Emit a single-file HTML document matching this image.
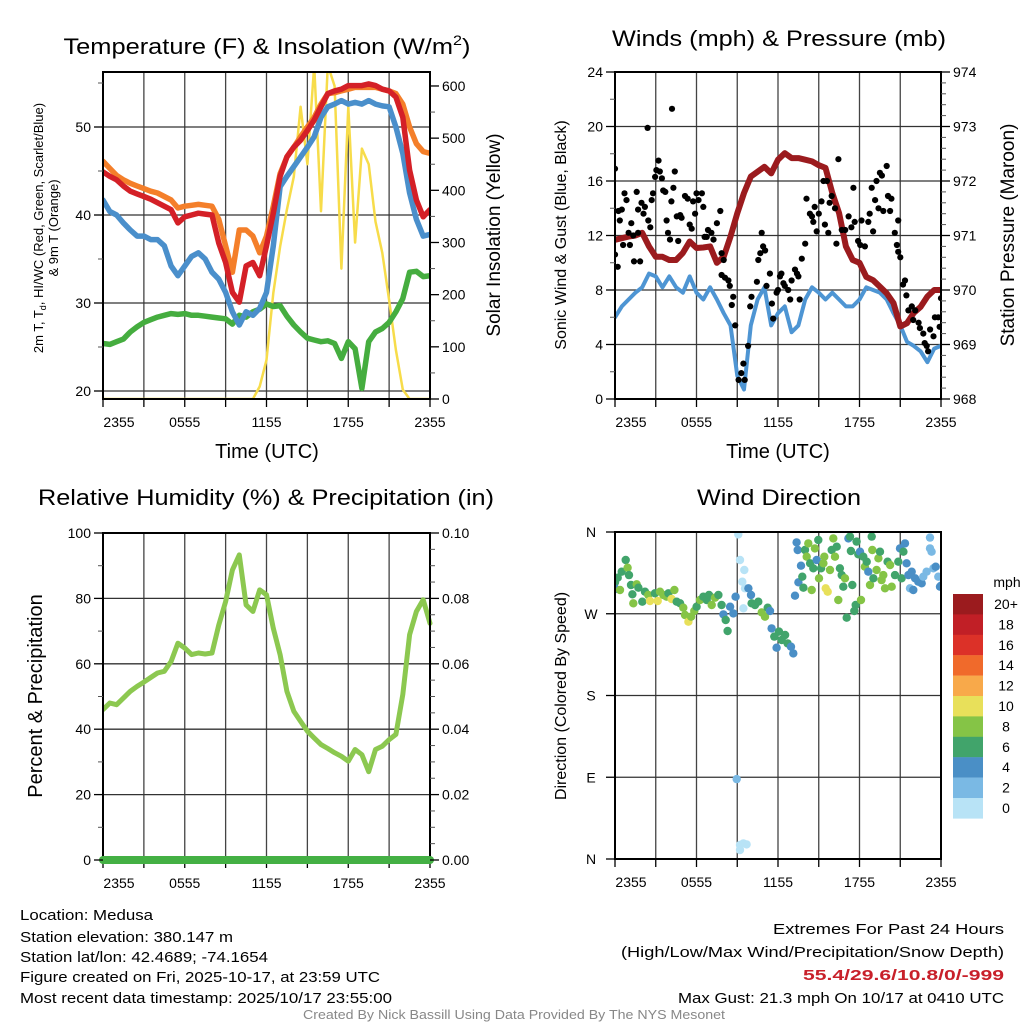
<!DOCTYPE html>
<html><head><meta charset="utf-8"><style>
html,body{margin:0;padding:0;background:#fff;}
svg{display:block;font-family:"Liberation Sans",sans-serif;}
</style></head><body>
<svg id="chart" width="1024" height="1024" viewBox="0 0 1024 1024"></svg>
<script>
// ---------- DATA ----------
const times = [0,0.5,1,1.5,2,2.5,3,3.5,4,4.5,5,5.5,6,6.5,7,7.5,8,8.5,9,9.5,10,10.5,11,11.5,12,12.5,13,13.5,14,14.5,15,15.5,16,16.5,17,17.5,18,18.5,19,19.5,20,20.5,21,21.5,22,22.5,23,23.5,24];
const timeTickLabels = ["2355","0555","1155","1755","2355"];
const tempRed = [44.9,44.4,44.0,43.3,42.7,42.4,42.1,41.8,41.4,41.0,40.6,39.1,39.8,40.0,40.2,40.1,40.0,36.8,34.6,31.2,30.1,34.2,34.6,33.1,36.5,40.2,44.4,46.6,47.7,48.5,49.6,50.8,52.3,53.8,54.1,54.3,54.7,54.7,54.7,54.9,54.7,54.3,54.1,53.4,51.1,45.1,41.7,39.8,40.6];
const temp9m = [46.1,45.3,44.5,44.0,43.6,43.3,43.0,42.7,42.5,42.1,41.7,40.8,41.0,41.1,41.2,41.1,41.0,39.5,36.5,33.5,38.3,38.3,37.6,35.7,37.6,41.0,44.7,46.6,47.7,48.9,50.0,51.1,52.6,53.8,53.9,54.1,54.3,54.5,54.5,54.5,54.5,54.3,54.1,53.8,52.6,50.0,48.1,47.2,47.0];
const tempWC = [41.7,40.4,40.0,39.1,38.3,37.6,37.6,37.2,37.2,36.5,34.2,33.1,34.2,35.3,35.7,35.0,33.5,32.7,31.2,29.0,27.5,29.0,28.6,29.4,31.2,36.5,43.2,44.4,45.5,46.6,47.7,48.9,51.1,52.3,52.6,53.0,52.6,52.8,52.6,53.0,52.6,52.4,52.3,50.0,47.0,42.5,39.5,37.6,37.8];
const dewpoint = [25.4,25.3,25.6,25.9,26.7,27.3,27.8,28.1,28.4,28.6,28.8,28.7,28.8,28.6,28.6,28.5,28.4,28.3,28.2,27.6,28.6,28.4,29.0,29.3,29.9,29.6,29.7,28.5,27.5,26.7,26.0,25.8,25.6,25.7,25.4,23.7,25.6,24.8,20.3,25.6,26.7,27.1,27.8,29.0,30.5,33.5,33.6,33.0,33.1];
const solar = [0,0,0,0,0,0,0,0,0,0,0,0,0,0,0,0,0,0,0,0,0,0,0,24,75,203,292,363,426,560,450,640,360,640,600,250,560,300,480,450,340,280,190,94,18,0,0,0,0];
const windSpeed = [6.0,6.8,7.3,7.8,8.2,9.2,9.0,8.2,9.0,8.2,7.8,9.0,7.8,7.3,8.2,7.3,6.3,5.4,1.7,0.7,5.4,7.3,8.2,5.4,6.3,6.8,4.9,5.4,7.3,8.2,7.8,7.3,7.8,7.3,6.8,6.8,7.3,8.2,8.0,7.8,7.3,6.3,5.4,4.2,3.9,3.5,2.7,3.7,3.9];
const pressure = [970.92,970.95,970.98,971.0,971.05,970.8,970.61,970.61,970.55,970.55,970.68,970.89,970.77,970.78,970.8,970.5,970.61,970.98,971.41,971.78,972.08,972.17,972.26,972.14,972.39,972.51,972.42,972.42,972.39,972.36,972.29,972.24,971.78,971.41,970.8,970.55,970.5,970.24,970.18,970.06,969.94,969.76,969.33,969.39,969.58,969.69,969.88,970.0,970.0];
const gustT = [0,0,0.2,0.25,0.35,0.5,0.6,0.7,0.85,1.0,1.1,1.2,1.35,1.4,1.6,1.7,1.7,1.85,1.95,2.1,2.2,2.4,2.45,2.6,2.7,2.8,2.95,3.05,3.2,3.3,3.45,3.55,3.7,3.8,3.9,4.05,4.15,4.2,4.3,4.4,4.55,4.65,4.8,4.9,5.15,5.35,5.5,5.65,5.75,5.9,6.0,6.15,6.4,6.5,6.6,6.75,6.85,7.1,7.25,7.5,7.75,7.85,8.0,7.85,8.1,8.35,8.45,8.6,8.7,8.85,9.1,9.3,9.45,9.55,9.8,9.95,10.05,10.45,10.55,10.7,10.8,10.9,11.05,11.15,11.4,11.55,11.65,11.9,12.0,12.15,12.25,12.4,12.5,12.75,12.9,13.0,13.25,13.4,13.5,13.6,13.75,14.0,14.1,14.35,14.5,14.6,14.7,14.85,15.0,15.2,15.35,15.45,15.6,15.7,15.8,15.95,16.2,16.3,16.45,16.7,16.95,17.2,17.4,17.55,17.65,17.9,18.05,18.15,18.4,18.65,18.75,18.9,19.0,19.15,19.25,19.4,19.5,19.65,19.75,20.0,20.1,20.25,20.35,20.6,20.75,20.85,20.85,21.0,21.2,21.35,21.45,21.6,21.85,21.95,22.1,22.35,22.45,22.7,22.8,22.95,23.05,23.2,23.45,23.55,23.8,23.9,24.0];
const gustV = [16.9,10.6,9.7,13.8,13.1,13.9,11.3,15.1,14.6,12.2,11.3,12.9,12.0,10.1,15.2,13.9,12.2,10.1,14.4,13.6,14.1,19.9,13.1,12.6,14.6,15.1,16.3,16.8,17.5,16.7,16.2,15.3,15.2,13.1,12.2,11.7,14.5,21.3,15.5,16.7,13.4,11.6,13.5,13.3,14.9,14.7,12.8,12.5,14.5,13.6,15.1,14.6,15.1,14.1,11.9,11.9,12.4,12.2,11.7,12.9,13.8,10.7,10.2,9.1,8.9,8.7,8.3,6.9,7.5,5.4,1.4,1.9,2.6,1.4,3.9,6.8,7.5,8.6,10.2,10.7,12.2,11.2,10.9,8.3,9.2,7.0,5.9,7.8,8.0,9.0,9.2,8.5,8.3,8.0,7.3,8.7,9.5,9.2,9.0,7.3,10.3,11.4,14.7,13.6,13.4,13.0,14.1,12.3,13.6,14.5,16.0,12.8,16.0,12.2,14.4,14.9,14.0,11.4,17.6,12.4,12.4,13.4,12.6,15.5,13.0,11.6,11.3,13.1,11.2,13.0,13.6,15.5,12.3,14.6,16.0,14.0,16.6,16.4,13.8,17.1,14.9,13.8,14.7,12.2,11.3,13.1,10.8,10.4,8.4,8.7,7.6,6.5,6.8,5.8,6.5,5.6,5.2,4.8,4.1,3.9,3.5,5.1,4.6,6.0,6.0,5.3,7.4];
const rhValues = [46,48,47.5,49.5,51.6,53.1,54.4,55.8,57.2,57.7,60.7,66.3,64.8,62.8,63.3,63.0,63.3,71.9,79.0,88.7,93.3,78.0,76.0,82.6,81.1,70.9,62.8,51.6,45.5,42.4,39.4,37.3,35.3,34.1,32.8,31.7,30.2,33.8,32.2,27.0,33.8,34.8,36.8,38.4,50.6,68.9,76.0,79.6,72.4];
const precipValues = [0,0,0,0,0,0,0,0,0,0,0,0,0,0,0,0,0,0,0,0,0,0,0,0,0,0,0,0,0,0,0,0,0,0,0,0,0,0,0,0,0,0,0,0,0,0,0,0,0];
const dirT = [0.0,0.05,0.2,0.37,0.49,0.79,0.93,1.03,1.18,1.28,1.35,1.6,1.72,2.01,2.21,2.45,2.58,2.94,3.14,3.31,3.56,3.8,3.93,4.17,4.37,4.54,4.79,5.03,5.15,5.4,5.6,5.84,6.01,6.26,6.5,6.75,6.92,7.12,7.36,7.61,7.85,7.98,8.15,8.29,8.47,8.71,8.88,9.08,9.2,9.37,9.52,9.57,9.45,9.82,10.01,10.06,10.31,10.55,10.8,11.04,11.24,11.41,11.53,11.73,11.9,12.07,12.27,12.52,12.71,12.96,13.13,8.96,9.2,9.45,9.2,9.69,
13.37,13.25,13.45,13.5,13.69,13.79,13.87,13.99,14.11,14.23,14.36,14.48,14.6,14.72,14.85,14.97,15.02,15.17,15.34,15.41,15.51,15.66,15.83,15.95,16.07,16.2,16.32,16.44,16.56,16.69,16.81,16.93,17.06,17.18,17.3,17.37,17.47,17.62,17.72,17.79,17.91,18.04,18.11,18.28,18.4,18.53,18.65,18.77,18.9,18.94,19.02,19.26,19.39,19.51,19.63,19.75,19.88,20.07,20.25,20.37,20.61,20.86,20.98,21.1,21.23,21.35,21.47,21.6,21.72,21.84,21.96,22.09,22.33,22.58,22.7,22.94,23.19,23.19,23.31,23.44,23.61,23.8,23.93,24.0];
const dirDeg = [304.6,297.2,309.7,296.1,316.3,329.2,320.7,312.6,301.6,291.4,281.5,302.4,298.7,283.3,294.3,290.6,284.0,292.5,284.0,294.3,290.6,288.8,292.5,286.2,296.1,283.3,281.5,276.7,268.6,261.3,266.8,273.0,277.8,285.1,288.8,285.1,290.6,279.6,287.7,290.6,279.6,269.3,263.1,251.0,277.8,270.4,288.8,357.4,329.2,305.3,318.2,298.0,276.0,298.0,290.6,281.5,279.6,283.3,271.5,266.8,276.7,273.0,253.9,244.8,232.6,250.3,241.1,246.6,237.4,233.7,226.4,88.0,15.4,17.2,9.9,16.1,
348.6,289.9,340.2,304.6,322.9,310.8,298.7,340.2,332.8,347.5,325.5,296.1,320.0,342.0,329.2,351.2,309.0,320.0,325.5,332.8,298.0,294.3,318.2,340.2,353.0,332.8,343.8,285.1,320.0,312.6,299.8,309.0,265.7,353.0,354.9,339.1,301.6,273.0,279.6,349.4,335.4,338.3,285.1,332.8,321.8,327.3,316.3,301.6,354.9,340.2,309.0,318.2,331.0,338.3,307.1,312.6,298.0,327.3,323.7,299.8,312.6,327.3,342.0,309.0,338.3,347.5,325.5,312.6,298.0,316.3,296.1,309.0,305.3,303.5,310.8,316.3,353.8,342.0,338.3,320.0,321.8,310.8,299.8,300.9];
const dirSpeed = [7,5,7,9,7,7,9,7,7,7,9,9,7,7,7,9,11,7,11,9,9,9,7,11,9,7,7,9,9,11,9,9,7,9,7,7,7,9,9,7,7,5,7,7,5,5,5,1,1,1,1,1,1,5,5,7,7,7,9,9,7,5,5,7,5,7,7,7,7,5,5,3,1,1,1,1,
5,5,5,5,5,7,7,7,9,9,7,9,7,9,5,7,9,7,9,9,11,11,9,7,9,9,7,9,7,7,7,9,7,5,7,7,7,7,7,7,7,5,9,7,9,7,5,9,7,9,7,9,9,7,9,9,9,7,9,9,7,7,5,7,7,5,5,5,3,5,5,5,5,5,3,3,3,3,3,3,5,3,5,5];
const speedBinLabels = ["20+","18","16","14","12","10","8","6","4","2","0"];
const speedBinColors = ["#9b1b1e","#c11f26","#dc3128","#f06a2b","#f8a94a","#e8e05a","#85c446","#41a46b","#4a8fc6","#7ab9e4","#b8e3f6"];

// ---------- HELPERS ----------
const NS = "http://www.w3.org/2000/svg";
const svg = document.getElementById('chart');
function mk(tag, attrs, parent){
  const e = document.createElementNS(NS, tag);
  for (const k in attrs) e.setAttribute(k, attrs[k]);
  (parent || svg).appendChild(e);
  return e;
}
function txt(s, x, y, size, anchor, parent, extra){
  const t = mk('text', Object.assign({x:x, y:y, 'font-size':size, 'text-anchor':anchor||'middle', fill:'#000'}, extra||{}), parent);
  t.textContent = s;
  return t;
}
function linePath(xs, ys, sx, sy){
  let d = '';
  for (let i=0;i<xs.length;i++) d += (i?'L':'M') + sx(xs[i]).toFixed(1) + ',' + sy(ys[i]).toFixed(1);
  return d;
}
function clip(id, x0, y0, x1, y1){
  const defs = mk('defs', {});
  const cp = mk('clipPath', {id:id}, defs);
  mk('rect', {x:x0, y:y0, width:x1-x0, height:y1-y0}, cp);
}
function frame(g, x0, y0, x1, y1, sx, hGridYs){
  for (let h=3; h<24; h+=3){
    const gl = mk('line', {x1:sx(h), x2:sx(h), y1:y0, y2:y1, stroke:'#444', 'stroke-width':1.3}, g);
    
    
  }
  hGridYs.forEach(yy => {
    const gl = mk('line', {x1:x0, x2:x1, y1:yy, y2:yy, stroke:'#333', 'stroke-width':1.3}, g);
    
    
  });
  for (let h=0; h<=24; h+=3){
    const tk = mk('line', {x1:sx(h), x2:sx(h), y1:y1, y2:y1+8, stroke:'#000', 'stroke-width':1.3}, g);
    
    
  }
  timeTickLabels.forEach((lab, i) => {
    const xx = sx(i*6) + (i===0 ? 16 : 0);
    const t = txt(lab, xx, y1+28, 14, 'middle', g);
    
    
  });
}
function box(g, x0, y0, x1, y1){
  const b = mk('rect', {x:x0, y:y0, width:x1-x0, height:y1-y0, fill:'none', stroke:'#000', 'stroke-width':2}, g);
  
  
}
function yTicks(g, xAxis, dir, vals, sy, labels, minorVals, size){
  vals.forEach((v,i) => {
    const tk = mk('line', {x1:xAxis, x2:xAxis + dir*9, y1:sy(v), y2:sy(v), stroke:'#000', 'stroke-width':1.3}, g);
    
    
    const t = txt(labels[i], xAxis + dir*12, sy(v)+5, size||14, dir<0?'end':'start', g);
    
    
  });
  (minorVals||[]).forEach(v => {
    const tk = mk('line', {x1:xAxis, x2:xAxis + dir*5, y1:sy(v), y2:sy(v), stroke:'#555', 'stroke-width':1}, g);
    
    
  });
}
function vlabel(s, x, y, size, g){
  const t = txt(s, x, y, size, 'middle', g, {transform:'rotate(-90 '+x+' '+y+')'});
  return t;
}

// ---------- PANEL 1: Temperature ----------
const p1 = mk('g', {});


const P1 = {x0:103, x1:430, y0:72, y1:399};
const sx1 = t => P1.x0 + t*(P1.x1-P1.x0)/24;
const syT = v => 391 - (v-20)*8.8;
const syS = v => 399 - v*0.5217;
clip('c1', P1.x0, P1.y0, P1.x1, P1.y1);
frame(p1, P1.x0, P1.y0, P1.x1, P1.y1, sx1, [20,30,40,50].map(syT));
const s1 = mk('g', {'clip-path':'url(#c1)', fill:'none', 'stroke-linejoin':'round', 'stroke-linecap':'round'}, p1);
let pth;
pth = mk('path', {d:linePath(times, solar, sx1, syS), stroke:'#f7dc4a', 'stroke-width':2.5}, s1);


pth = mk('path', {d:linePath(times, dewpoint, sx1, syT), stroke:'#45ad3f', 'stroke-width':5.5}, s1);


pth = mk('path', {d:linePath(times, temp9m, sx1, syT), stroke:'#f47f2a', 'stroke-width':5.5}, s1);


pth = mk('path', {d:linePath(times, tempWC, sx1, syT), stroke:'#4a8fcb', 'stroke-width':5.5}, s1);


pth = mk('path', {d:linePath(times, tempRed, sx1, syT), stroke:'#d42027', 'stroke-width':5.5}, s1);


box(p1, P1.x0, P1.y0, P1.x1, P1.y1);
yTicks(p1, P1.x0, -1, [20,30,40,50], syT, ["20","30","40","50"], [25,35,45,55]);
yTicks(p1, P1.x1, 1, [0,100,200,300,400,500,600], syS, ["0","100","200","300","400","500","600"], [50,150,250,350,450,550]);
let tt = txt('', 267, 54, 22, 'middle', p1, {textLength:407, lengthAdjust:'spacingAndGlyphs'});
tt.innerHTML = 'Temperature (F) &amp; Insolation (W/m<tspan font-size="14" dy="-9">2</tspan><tspan dy="9">)</tspan>';


tt = txt('Time (UTC)', 267, 458, 20, 'middle', p1);


tt = vlabel('', 43, 228, 13, p1);
tt.innerHTML = '2m T, T<tspan font-size="9" dy="3">d</tspan><tspan dy="-3">, HI/WC (Red, Green, Scarlet/Blue)</tspan>';


tt = vlabel('& 9m T (Orange)', 58, 228, 13, p1);


tt = vlabel('Solar Insolation (Yellow)', 500, 235, 19, p1);



// ---------- PANEL 2: Winds ----------
const p2 = mk('g', {});


const P2 = {x0:615, x1:941, y0:72, y1:399};
const sx2 = t => P2.x0 + t*(P2.x1-P2.x0)/24;
const syW = v => 399 - v*13.625;
const syP = p => 399 - (p-968)*54.5;
clip('c2', P2.x0, P2.y0-3, P2.x1, P2.y1+3);
frame(p2, P2.x0, P2.y0, P2.x1, P2.y1, sx2, [4,8,12,16,20].map(syW));
const s2 = mk('g', {'clip-path':'url(#c2)', 'stroke-linejoin':'round', 'stroke-linecap':'round'}, p2);
pth = mk('path', {d:linePath(times, windSpeed, sx2, syW), stroke:'#4e95d3', 'stroke-width':4, fill:'none'}, s2);


pth = mk('path', {d:linePath(times, pressure, sx2, syP), stroke:'#9b1b1e', 'stroke-width':6, fill:'none'}, s2);


for (let i=0;i<gustT.length;i++){
  const c = mk('circle', {cx:sx2(gustT[i]).toFixed(1), cy:syW(gustV[i]).toFixed(1), r:3.1, fill:'#000'}, s2);
  
  
}
box(p2, P2.x0, P2.y0, P2.x1, P2.y1);
yTicks(p2, P2.x0, -1, [0,4,8,12,16,20,24], syW, ["0","4","8","12","16","20","24"], [2,6,10,14,18,22]);
yTicks(p2, P2.x1, 1, [968,969,970,971,972,973,974], syP, ["968","969","970","971","972","973","974"], [968.2,968.4,968.6,968.8,969.2,969.4,969.6,969.8,970.2,970.4,970.6,970.8,971.2,971.4,971.6,971.8,972.2,972.4,972.6,972.8,973.2,973.4,973.6,973.8]);
tt = txt('Winds (mph) & Pressure (mb)', 779, 46, 22, 'middle', p2, {textLength:334, lengthAdjust:'spacingAndGlyphs'});


tt = txt('Time (UTC)', 778, 458, 20, 'middle', p2);


tt = vlabel('Sonic Wind & Gust (Blue, Black)', 566, 235, 16, p2);


tt = vlabel('Station Pressure (Maroon)', 1014, 235, 19, p2);



// ---------- PANEL 3: RH ----------
const p3 = mk('g', {});


const P3 = {x0:103, x1:430, y0:533, y1:860};
const sx3 = t => P3.x0 + t*(P3.x1-P3.x0)/24;
const syRH = v => 860 - v*3.27;
const syPr = v => 860 - v*3270;
clip('c3', P3.x0, P3.y0, P3.x1+6, P3.y1+6);
frame(p3, P3.x0, P3.y0, P3.x1, P3.y1, sx3, [20,40,60,80].map(syRH));
const s3 = mk('g', {'clip-path':'url(#c3)', fill:'none', 'stroke-linejoin':'round', 'stroke-linecap':'round'}, p3);
pth = mk('path', {d:linePath(times, rhValues, sx3, syRH), stroke:'#8cc850', 'stroke-width':5}, s3);


box(p3, P3.x0, P3.y0, P3.x1, P3.y1);
pth = mk('path', {d:linePath(times, precipValues, sx3, syPr), stroke:'#44b044', 'stroke-width':8, fill:'none', 'stroke-linecap':'round'}, p3);


yTicks(p3, P3.x0, -1, [0,20,40,60,80,100], syRH, ["0","20","40","60","80","100"], [10,30,50,70,90]);
yTicks(p3, P3.x1, 1, [0,0.02,0.04,0.06,0.08,0.10], syPr, ["0.00","0.02","0.04","0.06","0.08","0.10"], [0.005,0.01,0.015,0.025,0.03,0.035,0.045,0.05,0.055,0.065,0.07,0.075,0.085,0.09,0.095]);
tt = txt('Relative Humidity (%) & Precipitation (in)', 266, 505, 22, 'middle', p3, {textLength:456, lengthAdjust:'spacingAndGlyphs'});


tt = vlabel('Percent & Precipitation', 42, 696, 20, p3);



// ---------- PANEL 4: Wind direction ----------
const p4 = mk('g', {});


const P4 = {x0:615, x1:941, y0:532, y1:859};
const sx4 = t => P4.x0 + t*(P4.x1-P4.x0)/24;
const syD = d => 859 - d*(327/360);
clip('c4', P4.x0, P4.y0, P4.x1, P4.y1);
frame(p4, P4.x0, P4.y0, P4.x1, P4.y1, sx4, [90,180,270].map(syD));
const s4 = mk('g', {'clip-path':'url(#c4)'}, p4);
function speedColor(s){ const bin = Math.min(10, Math.floor(s/2)); return speedBinColors[10-bin]; }
for (let i=0;i<dirT.length;i++){
  const c = mk('circle', {cx:sx4(dirT[i]).toFixed(1), cy:syD(dirDeg[i]).toFixed(1), r:4.2, fill:speedColor(dirSpeed[i])}, s4);
  
  
}
box(p4, P4.x0, P4.y0, P4.x1, P4.y1);
[0,90,180,270,360].forEach((d,i) => {
  const tk = mk('line', {x1:P4.x0, x2:P4.x0-9, y1:syD(d), y2:syD(d), stroke:'#000', 'stroke-width':1.3}, p4);
  
  
  const t = txt(["N","E","S","W","N"][i], 591, syD(d)+5, 14, 'middle', p4);
  
  
});
tt = txt('Wind Direction', 779, 505, 22, 'middle', p4, {textLength:164, lengthAdjust:'spacingAndGlyphs'});


tt = vlabel('Direction (Colored By Speed)', 566, 696, 16, p4);


// colorbar
const cb = mk('g', {}, p4);


tt = txt('mph', 1007, 587, 14, 'middle', cb);


speedBinLabels.forEach((lab, i) => {
  const r = mk('rect', {x:953, y:(594 + i*20.4).toFixed(1), width:30, height:20.6, fill:speedBinColors[i]}, cb);
  
  
  const t = txt(lab, 1006, 594 + i*20.4 + 15, 14, 'middle', cb);
  
  
});

// ---------- FOOTER ----------
const ft = mk('g', {});


const leftLines = [["Location: Medusa",920,133],["Station elevation: 380.147 m",942,213],["Station lat/lon: 42.4689; -74.1654",962,248],["Figure created on Fri, 2025-10-17, at 23:59 UTC",982,360],["Most recent data timestamp: 2025/10/17 23:55:00",1003,372]];
leftLines.forEach(l => {
  const t = txt(l[0], 20, l[1], 15, 'start', ft, {textLength:l[2], lengthAdjust:'spacingAndGlyphs'});
  
  
});
const rightLines = [["Extremes For Past 24 Hours",934,231,'#000','normal'],["(High/Low/Max Wind/Precipitation/Snow Depth)",957,383,'#000','normal'],["55.4/29.6/10.8/0/-999",980,201,'#c8202a','bold'],["Max Gust: 21.3 mph On 10/17 at 0410 UTC",1003,326,'#000','normal']];
rightLines.forEach(l => {
  const t = txt(l[0], 1004, l[1], 15, 'end', ft, {textLength:l[2], lengthAdjust:'spacingAndGlyphs', fill:l[3], 'font-weight':l[4]});
  
  
});
tt = txt('Created By Nick Bassill Using Data Provided By The NYS Mesonet', 514, 1019, 12.5, 'middle', ft, {textLength:422, lengthAdjust:'spacingAndGlyphs', fill:'#888'});


</script>
</body></html>
